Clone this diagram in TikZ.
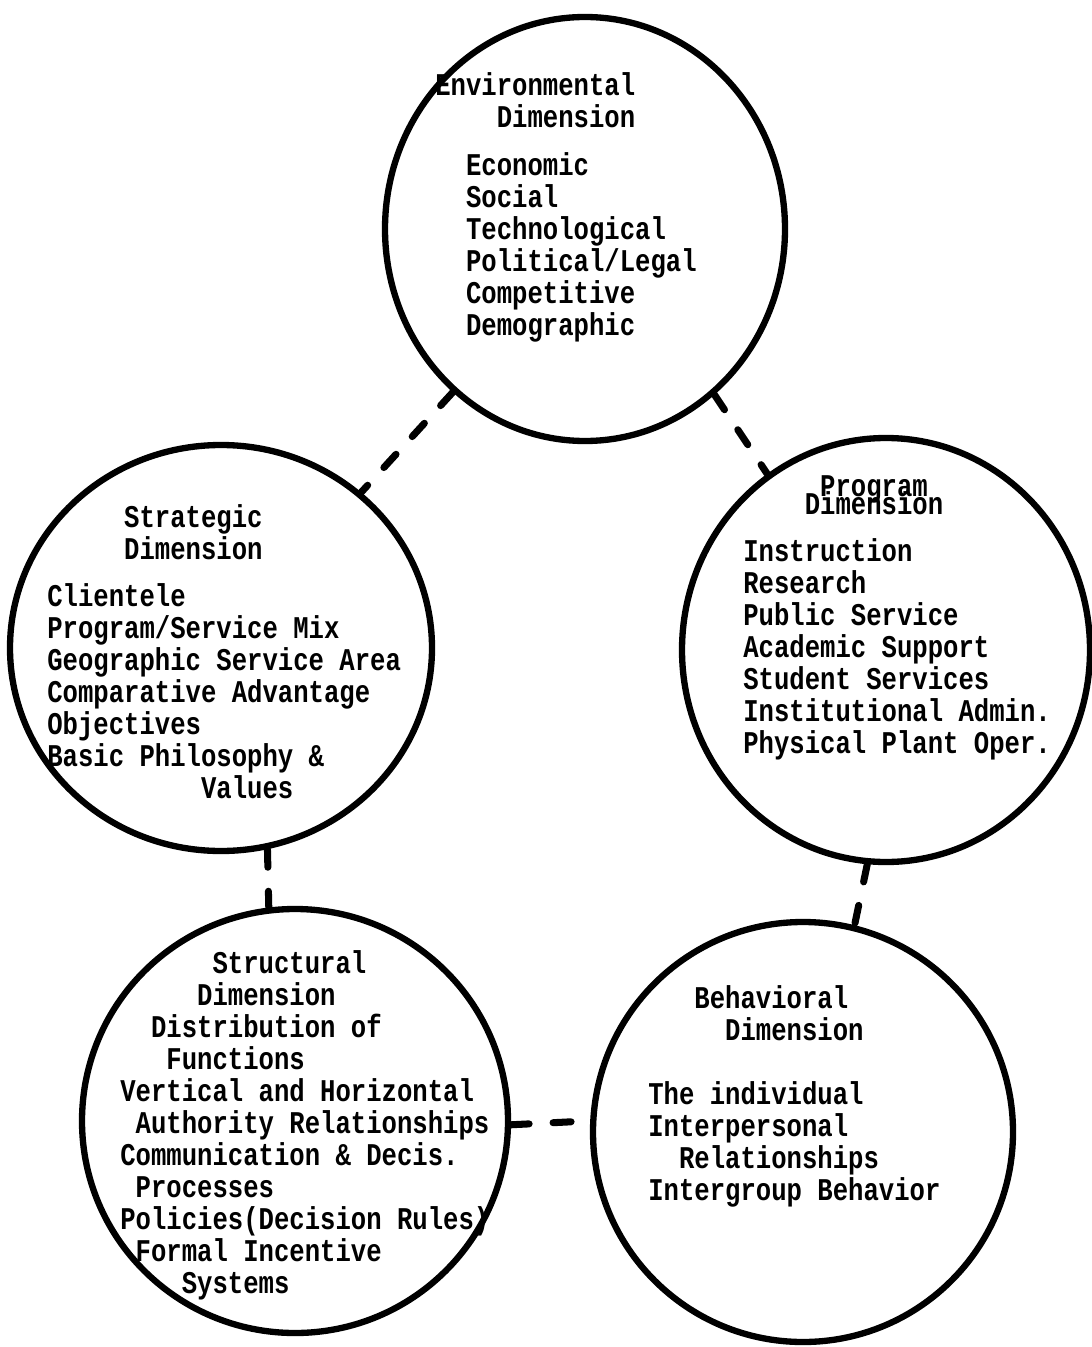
\documentclass[tikz,border=0pt]{standalone}
\usepackage{fontspec}
\usepackage{tikz}
\usetikzlibrary{shapes.geometric}
\newfontfamily\typerfont{Liberation Mono}[FakeStretch=0.81]
\newcommand{\ind}[1]{\hspace*{#1\fontcharwd\font`x}}

\begin{document}
\begin{tikzpicture}[
    dimcircle/.style={draw, ellipse, line width=3.6pt, inner sep=0pt},
    dimlink/.style={line width=4pt, line cap=round, dash pattern=on 0.36cm off 0.48cm},
    dimtext/.style={font=\typerfont\bfseries\fontsize{18pt}{18.2pt}\selectfont,
        align=left, anchor=base west, inner sep=0pt}]
    \useasboundingbox (0,0) rectangle (21.82,-26.94);

    \node[dimcircle, minimum width=8cm, minimum height=8.48cm] (env) at (11.70,-4.58) {};
    \node[dimcircle, minimum width=8.16cm, minimum height=8.48cm] (prog) at (17.72,-13.00) {};
    \node[dimcircle, minimum width=8.44cm, minimum height=8.12cm] (strat) at (4.42,-12.96) {};
    \node[dimcircle, minimum width=8.52cm, minimum height=8.48cm] (struct) at (5.90,-22.42) {};
    \node[dimcircle, minimum width=8.40cm, minimum height=8.40cm] (behav) at (16.06,-22.64) {};

    % text blocks sit on the baseline of their last line
    \node[dimtext] (envtext) at (8.70,-6.70) {Environmental\\
        \ind{4}Dimension\\[9pt]
        \ind{2}Economic\\ \ind{2}Social\\ \ind{2}Technological\\
        \ind{2}Political/Legal\\ \ind{2}Competitive\\ \ind{2}Demographic};
    \node[dimtext] (progtext) at (14.86,-15.06) {\ind{5}Program\\[-8pt]
        \ind{4}Dimension\\[8.5pt]
        Instruction\\ Research\\ Public Service\\ Academic Support\\
        Student Services\\ Institutional Admin.\\ Physical Plant Oper.};
    \node[dimtext] (strattext) at (0.94,-15.96) {\ind{5}Strategic\\
        \ind{5}Dimension\\[8.5pt]
        Clientele\\ Program/Service Mix\\ Geographic Service Area\\
        Comparative Advantage\\ Objectives\\ Basic Philosophy \&\\
        \ind{10}Values};
    \node[dimtext] (structtext) at (2.40,-25.86) {\ind{6}Structural\\
        \ind{5}Dimension\\ \ind{2}Distribution of\\ \ind{3}Functions\\
        Vertical and Horizontal\\ \ind{1}Authority Relationships\\
        Communication \& Decis.\\ \ind{1}Processes\\
        Policies(Decision Rules)\\ \ind{1}Formal Incentive\\ \ind{4}Systems};
    \node[dimtext] (behavtext) at (12.96,-24.00) {\ind{3}Behavioral\\
        \ind{5}Dimension\\[18.2pt]
        The individual\\ Interpersonal\\ \ind{2}Relationships\\
        Intergroup Behavior};

    \draw[dimlink] (env.231) -- (strat.48);
    \draw[dimlink] (env.308) -- (prog.124);
    \draw[dimlink] (strat.283) -- (struct.97);
    \draw[dimlink] (prog.265) -- (behav.76);
    \draw[dimlink] (struct.359) -- (behav.177);
\end{tikzpicture}
\end{document}
